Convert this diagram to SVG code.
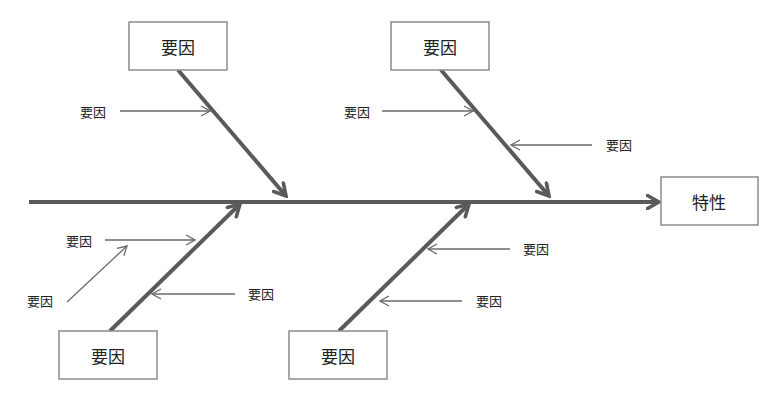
<svg xmlns="http://www.w3.org/2000/svg" width="768" height="403" viewBox="0 0 768 403">
  <defs>
    <style>
      .box { fill: #ffffff; stroke: #8c8c8c; stroke-width: 1.5; }
      .bone { stroke: #5a5a5a; stroke-width: 4; fill: none; }
      .small { stroke: #6a6a6a; stroke-width: 1.3; fill: none; }
      .lbl { font-family: "Noto Sans CJK JP", "Noto Sans CJK SC", sans-serif; fill: #222222; text-anchor: middle; dominant-baseline: central; }
      .big { font-size: 17px; }
      .sm { font-size: 13px; }
    </style>
    <marker id="headBig" markerUnits="userSpaceOnUse" viewBox="0 0 16 16" refX="13.5" refY="8" markerWidth="16" markerHeight="16" orient="auto">
      <path d="M2,1.5 L13.5,8 L2,14.5" fill="none" stroke="#5a5a5a" stroke-width="3.6" stroke-linejoin="miter" stroke-linecap="round"/>
    </marker>
    <marker id="headSmall" markerUnits="userSpaceOnUse" viewBox="0 0 12 12" refX="11" refY="6" markerWidth="12" markerHeight="12" orient="auto">
      <path d="M2,1 L11,6 L2,11" fill="none" stroke="#6a6a6a" stroke-width="1.3"/>
    </marker>
  </defs>

  <g id="connectors">
    <line class="bone" x1="29" y1="202" x2="659" y2="202" marker-end="url(#headBig)"/>
    <line class="bone" x1="178" y1="70" x2="286" y2="196" marker-end="url(#headBig)"/>
    <line class="bone" x1="441" y1="70" x2="549" y2="196" marker-end="url(#headBig)"/>
    <line class="bone" x1="110" y1="331" x2="240" y2="204" marker-end="url(#headBig)"/>
    <line class="bone" x1="339" y1="331" x2="469" y2="204" marker-end="url(#headBig)"/>

    <line class="small" x1="120" y1="111" x2="210" y2="111" marker-end="url(#headSmall)"/>
    <line class="small" x1="382" y1="111" x2="473" y2="111" marker-end="url(#headSmall)"/>
    <line class="small" x1="592" y1="145" x2="511" y2="145" marker-end="url(#headSmall)"/>
    <line class="small" x1="105" y1="240" x2="195" y2="240" marker-end="url(#headSmall)"/>
    <line class="small" x1="67" y1="302" x2="127" y2="246" marker-end="url(#headSmall)"/>
    <line class="small" x1="235" y1="294" x2="152" y2="294" marker-end="url(#headSmall)"/>
    <line class="small" x1="510" y1="249" x2="428" y2="249" marker-end="url(#headSmall)"/>
    <line class="small" x1="462" y1="301" x2="380" y2="301" marker-end="url(#headSmall)"/>
  </g>

  <g id="node-top-left">
    <rect class="box" x="129" y="22" width="98" height="48"/>
    <text class="lbl big" x="178" y="46">要因</text>
  </g>
  <g id="node-top-right">
    <rect class="box" x="391" y="22" width="98" height="48"/>
    <text class="lbl big" x="440" y="46">要因</text>
  </g>
  <g id="node-bottom-left">
    <rect class="box" x="59" y="331" width="98" height="48"/>
    <text class="lbl big" x="108" y="355">要因</text>
  </g>
  <g id="node-bottom-right">
    <rect class="box" x="289" y="331" width="98" height="48"/>
    <text class="lbl big" x="338" y="355">要因</text>
  </g>
  <g id="node-effect">
    <rect class="box" x="661" y="177" width="97" height="48"/>
    <text class="lbl big" x="709" y="201">特性</text>
  </g>

  <g id="labels">
    <text class="lbl sm" x="93" y="111">要因</text>
    <text class="lbl sm" x="357" y="111">要因</text>
    <text class="lbl sm" x="619" y="144">要因</text>
    <text class="lbl sm" x="79" y="240">要因</text>
    <text class="lbl sm" x="40" y="300">要因</text>
    <text class="lbl sm" x="261" y="293">要因</text>
    <text class="lbl sm" x="536" y="248">要因</text>
    <text class="lbl sm" x="489" y="300">要因</text>
  </g>
</svg>
